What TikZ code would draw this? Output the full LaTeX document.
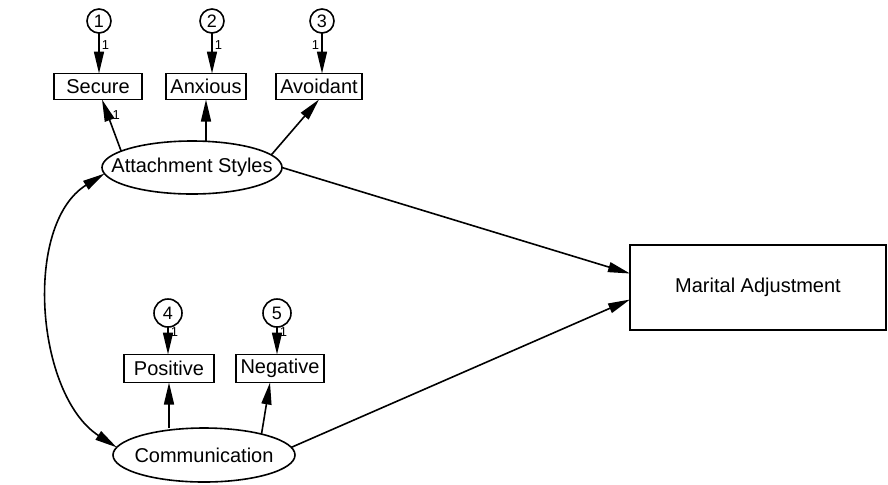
\documentclass[tikz,border=0pt]{standalone}
\usepackage{fontspec}
\setmainfont{Liberation Sans}
\usetikzlibrary{positioning, shapes.geometric, arrows.meta}

\begin{document}
\begin{tikzpicture}[x=0.5pt, y=-0.5pt,
		font=\fontsize{10}{12}\selectfont,
		>={Triangle[length=11pt, width=5pt]},
		obs/.style={draw, line width=0.8pt, inner sep=0pt, outer sep=0pt, minimum height=13pt},
		latent/.style={draw, ellipse, line width=0.8pt, inner xsep=-20pt, inner ysep=0pt, outer sep=0pt},
		err/.style={draw, circle, line width=0.8pt, inner sep=0pt, outer sep=0pt, font=\fontsize{9}{10}\selectfont},
		arr/.style={->, line width=0.8pt},
		one/.style={font=\fontsize{6.5}{7}\selectfont, inner sep=1pt}]
	\useasboundingbox (0,0) rectangle (888,484);

	\node[latent, minimum width=90pt, minimum height=26.5pt] (att) at (192,167.5) {Attachment Styles};
	\node[latent, minimum width=91pt, minimum height=27pt] (com) at (204,455) {Communication};
	\node[obs, minimum width=128pt, minimum height=42.5pt, line width=1pt] (mar) at (758,287.5) {Marital Adjustment};

	\node[obs, minimum width=44pt] (sec) at (98,86.5) {Secure};
	\node[obs, minimum width=40pt] (anx) at (206,86.5) {Anxious};
	\node[obs, minimum width=43pt] (avo) at (319,86.5) {Avoidant};
	\node[obs, minimum width=45pt, minimum height=14pt] (pos) at (169,368.5) {Positive};
	\node[obs, minimum width=44pt, minimum height=14pt] (neg) at (280,368.5) {Negative};

	\node[err, minimum size=12pt, above=20.25pt of sec, xshift=0.5pt] (e1) {1};
	\node[err, minimum size=12pt, above=20.25pt of anx, xshift=3pt] (e2) {2};
	\node[err, minimum size=12pt, above=20.25pt of avo, xshift=1.5pt] (e3) {3};
	\node[err, minimum size=14pt, above=13.75pt of pos, xshift=-0.5pt] (e4) {4};
	\node[err, minimum size=14pt, above=13.75pt of neg, xshift=-1.5pt] (e5) {5};

	% error terms
	\draw[arr] (e1) -- (e1 |- sec.north) node[one, pos=0.3, right]{1};
	\draw[arr] (e2) -- (e2 |- anx.north) node[one, pos=0.3, right]{1};
	\draw[arr] (e3) -- (e3 |- avo.north) node[one, pos=0.3, left]{1};
	\draw[arr] (e4) -- (e4 |- pos.north) node[one, pos=0.2, right]{1};
	\draw[arr] (e5) -- (e5 |- neg.north) node[one, pos=0.2, right]{1};

	% loadings
	\draw[arr] (att.167) -- ([xshift=2pt]sec.south) node[one, pos=0.7, right=1pt]{1};
	\draw[arr] (anx.south |- att.north) -- (anx.south);
	\draw[arr] (att.9) -- (avo.south);
	\draw[arr] (pos.south |- com.north) -- (pos.south);
	\draw[arr] (com.20) -- ([xshift=-5pt]neg.south);

	% structural paths
	\draw[arr] (att.east) -- ([yshift=7pt]mar.west);
	\draw[arr] (com.5) -- ([yshift=-6pt]mar.west);
	\draw[<->, line width=0.8pt] (att.184) to[out=212, in=147, looseness=0.9] (com.175);
\end{tikzpicture}
\end{document}
